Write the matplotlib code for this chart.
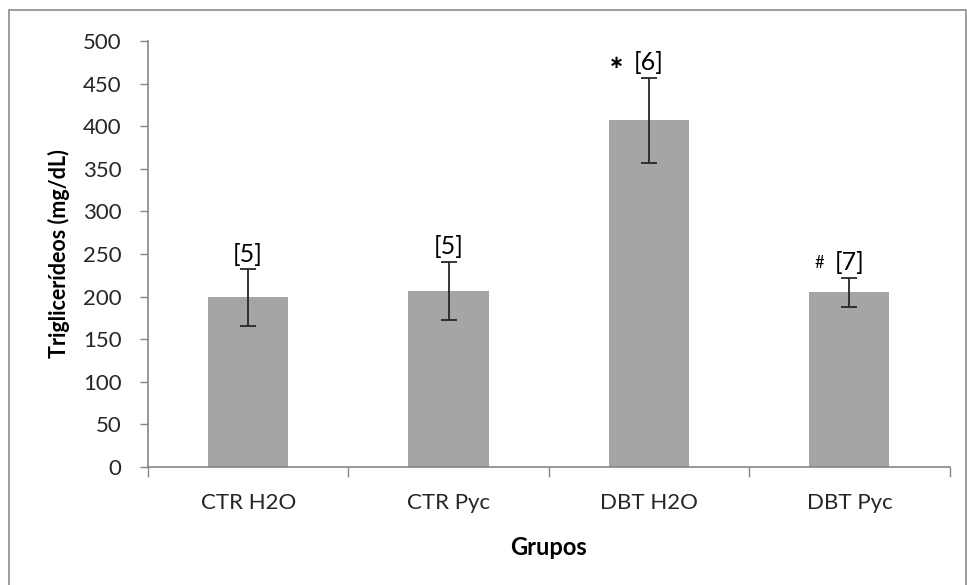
import matplotlib.pyplot as plt
from matplotlib.patches import Rectangle

grupos = ['CTR H2O', 'CTR Pyc', 'DBT H2O', 'DBT Pyc']
medias = [199, 207, 407, 205]
erros = [33, 34, 50, 17]
n_labels = ['[5]', '[5]', '[6]', '[7]']
marcas = ['', '', '∗', '#']

plt.rcParams['font.family'] = ['Lato', 'DejaVu Sans']

fig = plt.figure(figsize=(9.67, 5.85), dpi=100)
ax = fig.add_axes([0.153, 0.2017, 0.829, 0.7283])

x = range(len(grupos))
ax.bar(x, medias, width=0.4, color='#a5a5a5', zorder=2)
ax.errorbar(x, medias, yerr=erros, fmt='none', ecolor='#262626',
            elinewidth=1.3, capsize=6, capthick=1.3, zorder=3)

for i in x:
    top = medias[i] + erros[i]
    ax.text(i, top + 9, n_labels[i], ha='center', va='baseline', fontsize=18, color='black')
    if marcas[i] == '∗':
        ax.text(i - 0.16, top + 18, marcas[i], ha='center', va='center',
                fontsize=13, fontweight='bold', color='black')
    elif marcas[i]:
        ax.text(i - 0.15, top + 11, marcas[i], ha='center', va='baseline',
                fontsize=12, color='black')

ax.set_xlim(-0.5, len(grupos) - 0.5)
ax.set_ylim(0, 500)
ax.set_yticks(range(0, 501, 50))
ax.set_xticks([i - 0.5 for i in range(len(grupos) + 1)], minor=False)
ax.set_xticklabels([])
ax.set_xticks(list(x), minor=True)
ax.set_xticklabels(grupos, minor=True)
ax.tick_params(axis='x', which='major', length=7, color='#868686', width=1)
ax.tick_params(axis='x', which='minor', length=0, labelsize=16, labelcolor='#262626', pad=19)
ax.tick_params(axis='y', length=6, color='#868686', width=1, labelsize=16,
               labelcolor='#262626', pad=13)

for s in ['top', 'right']:
    ax.spines[s].set_visible(False)
for s in ['left', 'bottom']:
    ax.spines[s].set_color('#868686')
    ax.spines[s].set_linewidth(1.2)

ax.set_ylabel('Triglicerídeos (mg/dL)', fontsize=15.5, fontweight='bold', color='black', labelpad=9)
ax.set_xlabel('Grupos', fontsize=17, fontweight='bold', color='black', labelpad=16)

fig.patches.append(Rectangle((9 / 967, -0.01), 957 / 967, 1 - 10 / 585 + 0.01,
                             transform=fig.transFigure, fill=False,
                             edgecolor='#8c8c8c', linewidth=1.2))

fig.savefig('out.png', dpi=100)
